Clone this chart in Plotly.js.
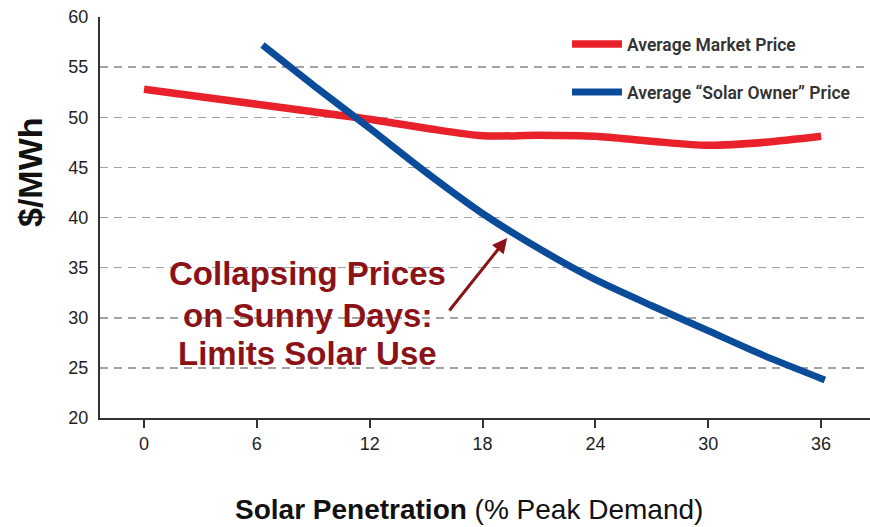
<!DOCTYPE html>
<html>
<head>
<meta charset="utf-8">
<script src="https://cdn.plot.ly/plotly-3.0.1.min.js"></script>
<style>html,body{margin:0;padding:0;background:#fff;}#chart{width:870px;height:527px;}</style>
</head>
<body>
<div id="chart"></div>
<script>
// Data
const marketX = [0, 3, 6, 9, 12, 15, 18, 21, 24, 27, 30, 33, 36];
const marketY = [52.8, 52.05, 51.3, 50.55, 49.8, 48.9, 48.15, 48.2, 48.1, 47.6, 47.2, 47.5, 48.1];
const ownerX = [6.3, 9, 12, 15, 18, 21, 24, 27, 30, 33, 36.2];
const ownerY = [57.2, 53.2, 48.9, 44.5, 40.4, 36.9, 33.8, 31.2, 28.7, 26.2, 23.8];
const seriesNames = ['Average Market Price', 'Average \u201cSolar Owner\u201d Price'];
const xTicks = [0, 6, 12, 18, 24, 30, 36];
const yTicks = [20, 25, 30, 35, 40, 45, 50, 55, 60];
const noteLines = ['Collapsing Prices', 'on Sunny Days:', 'Limits Solar Use'];
const noteY = [34.46, 30.27, 26.48];

const RED = '#e8212b', BLUE = '#0b4c9a', DARKRED = '#8b1317';

const traces = [
  {x: marketX, y: marketY, name: seriesNames[0], type: 'scatter', mode: 'lines',
   line: {color: RED, width: 7.5, shape: 'spline', smoothing: 0.8}, legend: 'legend'},
  {x: ownerX, y: ownerY, name: seriesNames[1], type: 'scatter', mode: 'lines',
   line: {color: BLUE, width: 7, shape: 'spline', smoothing: 0.7}, legend: 'legend2'}
];

const legendFont = {family: 'Roboto, Arial, sans-serif', size: 17.5, color: '#333', weight: 600};

const annotations = noteLines.map((t, i) => ({
  x: 8.67, y: noteY[i], xref: 'x', yref: 'y', text: '<b>' + t + '</b>', showarrow: false,
  xanchor: 'center', yanchor: 'middle',
  font: {family: 'Arial, Liberation Sans, sans-serif', size: 33, color: DARKRED}
}));
annotations.push({
  x: 19.31, y: 37.96, xref: 'x', yref: 'y', ax: -59, ay: 74, text: '', showarrow: true,
  arrowhead: 2, arrowsize: 1, arrowwidth: 3, arrowcolor: DARKRED
});
annotations.push({
  x: (469 - 100) / 770, y: -(510 - 418) / 401, xref: 'paper', yref: 'paper',
  text: '<b>Solar Penetration</b> (% Peak Demand)', showarrow: false,
  xanchor: 'center', yanchor: 'middle',
  font: {family: 'Arial, Liberation Sans, sans-serif', size: 28, color: '#111'}
});
annotations.push({
  x: -(100 - 30) / 770, y: 1 - (172 - 17) / 401, xref: 'paper', yref: 'paper',
  text: '<b>$/MWh</b>', showarrow: false, textangle: -90,
  xanchor: 'center', yanchor: 'middle',
  font: {family: 'Arial, Liberation Sans, sans-serif', size: 34, color: '#111'}
});

const layout = {
  width: 870, height: 527,
  margin: {l: 100, r: 0, t: 17, b: 109, pad: 0},
  paper_bgcolor: '#fff', plot_bgcolor: '#fff',
  showlegend: true,
  legend: {x: (567 - 100) / 770, y: 1 - (44 - 17) / 401, xanchor: 'left', yanchor: 'middle',
           bgcolor: 'rgba(0,0,0,0)', borderwidth: 0, font: legendFont, itemwidth: 50},
  legend2: {x: (567 - 100) / 770, y: 1 - (92 - 17) / 401, xanchor: 'left', yanchor: 'middle',
            bgcolor: 'rgba(0,0,0,0)', borderwidth: 0, font: legendFont, itemwidth: 50},
  xaxis: {
    range: [-2.34, 38.6], tickvals: xTicks, ticktext: xTicks.map(String),
    showgrid: false, zeroline: false, showline: true, linecolor: '#333', linewidth: 2,
    ticks: 'outside', ticklen: 8, tickwidth: 2, tickcolor: '#333',
    tickfont: {family: 'Arial, Liberation Sans, sans-serif', size: 18, color: '#222'},
    fixedrange: true
  },
  yaxis: {
    range: [20, 60], tickvals: yTicks, ticktext: yTicks.map(String),
    showgrid: true, gridcolor: '#a3a3a3', gridwidth: 1.5, griddash: '8px,6px',
    zeroline: false, showline: true, linecolor: '#333', linewidth: 2,
    ticks: '', ticklabelstandoff: 6,
    tickfont: {family: 'Arial, Liberation Sans, sans-serif', size: 18, color: '#222'},
    fixedrange: true
  },
  annotations: annotations
};

Plotly.newPlot('chart', traces, layout, {displayModeBar: false, staticPlot: true});
</script>
</body>
</html>
